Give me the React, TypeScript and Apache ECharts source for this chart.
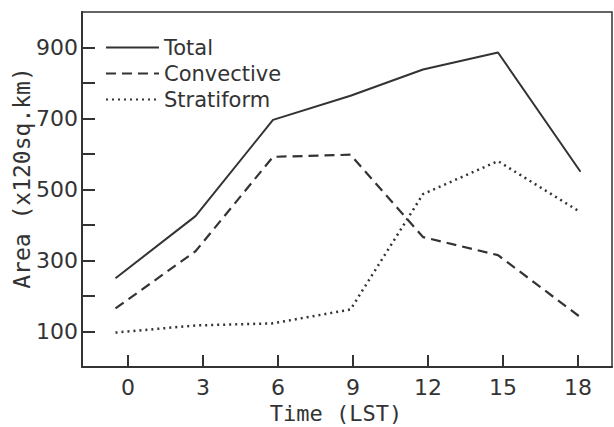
import React, { useEffect, useRef } from "react";
import * as echarts from "echarts";

const hours = [-0.5, 2.7, 5.8, 8.9, 11.8, 14.8, 18.1];
const totalValues = [250, 425, 696, 764, 838, 886, 550];
const convectiveValues = [165, 326, 592, 598, 366, 315, 140];
const stratiformValues = [97, 117, 123, 162, 487, 580, 436];
const xTickValues = [0, 3, 6, 9, 12, 15, 18];
const xLabelValues = [0, 3, 6, 9, 12, 15, 18];
const yTickValues = [100, 200, 300, 400, 500, 600, 700, 800, 900];
const yLabelValues = [100, 300, 500, 700, 900];
const seriesNames = ["Total", "Convective", "Stratiform"];

const INK = "#333333";

export default function App() {
  const ref = useRef<HTMLDivElement>(null);
  useEffect(() => {
    if (!ref.current) return;
    const chart = echarts.init(ref.current, undefined, { renderer: "svg" });
    const pts = (vals: number[]) => hours.map((h, i) => [h, vals[i]]);
    chart.setOption({
      animation: false,
      backgroundColor: "#ffffff",
      grid: {
        left: 82,
        right: 2,
        top: 12,
        bottom: 60,
        show: true,
        borderColor: INK,
        borderWidth: 1.5,
      },
      legend: {
        orient: "vertical",
        left: 100,
        top: 32,
        itemWidth: 53,
        itemHeight: 14,
        itemGap: 5,
        data: seriesNames,
        itemStyle: { opacity: 0 },
        textStyle: { fontFamily: "DejaVu Sans", fontSize: 21, color: INK },
      },
      xAxis: {
        type: "value",
        min: -1.84,
        max: 19.36,
        axisLine: { show: true, onZero: false, lineStyle: { color: INK, width: 2 } },
        axisTick: {
          show: true,
          inside: true,
          length: 12,
          customValues: xTickValues,
          lineStyle: { color: INK, width: 2 },
        },
        axisLabel: {
          customValues: xLabelValues,
          margin: 9,
          fontFamily: "DejaVu Sans",
          fontSize: 22,
          color: INK,
        },
        splitLine: { show: false },
      },
      yAxis: {
        type: "value",
        min: 0,
        max: 1000,
        axisLine: { show: true, onZero: false, lineStyle: { color: INK, width: 2 } },
        axisTick: {
          show: true,
          inside: true,
          length: 13,
          customValues: yTickValues,
          lineStyle: { color: INK, width: 2 },
        },
        axisLabel: {
          customValues: yLabelValues,
          margin: 4,
          fontFamily: "DejaVu Sans",
          fontSize: 22,
          color: INK,
        },
        splitLine: { show: false },
      },
      graphic: [
        {
          type: "text",
          x: 336,
          y: 413,
          style: {
            text: "Time (LST)",
            fontFamily: "DejaVu Sans Mono",
            fontSize: 22,
            fill: INK,
            align: "center",
            verticalAlign: "middle",
          },
        },
        {
          type: "text",
          x: 22,
          y: 178,
          rotation: Math.PI / 2,
          style: {
            text: "Area (x120sq.km)",
            fontFamily: "DejaVu Sans Mono",
            fontSize: 23,
            fill: INK,
            align: "center",
            verticalAlign: "middle",
          },
        },
      ],
      series: [
        {
          name: "Total",
          type: "line",
          data: pts(totalValues),
          symbol: "none",
          lineStyle: { color: INK, width: 2, type: "solid" },
          itemStyle: { color: INK },
        },
        {
          name: "Convective",
          type: "line",
          data: pts(convectiveValues),
          symbol: "none",
          lineStyle: { color: INK, width: 2.2, type: [10, 6] },
          itemStyle: { color: INK },
        },
        {
          name: "Stratiform",
          type: "line",
          data: pts(stratiformValues),
          symbol: "none",
          lineStyle: { color: INK, width: 2.5, type: [2, 4] },
          itemStyle: { color: INK },
        },
      ],
    });
    return () => chart.dispose();
  }, []);
  return <div ref={ref} style={{ width: 614, height: 427, position: "absolute", left: 0, top: 0 }} />;
}
